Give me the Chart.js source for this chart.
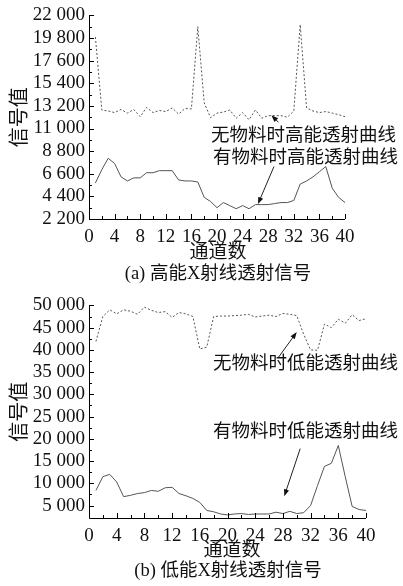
<!DOCTYPE html>
<html>
<head>
<meta charset="utf-8">
<script src="https://cdn.jsdelivr.net/npm/chart.js@4.4.1/dist/chart.umd.min.js"></script>
<style>
  body { margin: 0; background: #fff; width: 403px; height: 586px; position: relative; overflow: hidden; }
  canvas { position: absolute; left: 0; }
  .lbl { position: absolute; width: 240px; text-align: center; white-space: nowrap; line-height: 1;
         font-family: "Liberation Serif", "Noto Sans CJK SC", serif; color: #111; }
</style>
</head>
<body>
<canvas id="chartA" width="403" height="290" style="top:0"></canvas>
<canvas id="chartB" width="403" height="296" style="top:290px"></canvas>
<div class="lbl" style="left:98px;top:242px;font-size:19px">通道数</div>
<div class="lbl" style="left:98px;top:264px;font-size:18.5px">(a) 高能X射线透射信号</div>
<div class="lbl" style="left:112px;top:540px;font-size:19px">通道数</div>
<div class="lbl" style="left:108px;top:561px;font-size:18.5px">(b) 低能X射线透射信号</div>
<script>
// channel numbers (x)
var channels = [1, 2, 3, 4, 5, 6, 7, 8, 9, 10, 11, 12, 13, 14, 15, 16, 17, 18, 19, 20,
    21, 22, 23, 24, 25, 26, 27, 28, 29, 30, 31, 32, 33, 34, 35, 36, 37, 38, 39, 40];

// (a) high energy
var highEmpty = [19900, 12800, 12700, 12550, 12850, 12500, 12850, 12150, 13050, 12550,
    12750, 12650, 13000, 12400, 12950, 12900, 20900, 13500, 12050, 12500,
    12600, 12800, 12000, 12550, 11850, 12800, 12000, 12250, 12250, 12250,
    12100, 12700, 21100, 13000, 12700, 12550, 12650, 12500, 12350, 12150];
var highLoaded = [5700, 7000, 8100, 7600, 6300, 5900, 6200, 6200, 6700, 6700,
    6900, 6900, 6900, 6000, 5900, 5900, 5800, 4300, 3900, 3300,
    3800, 3500, 3200, 3500, 3200, 3600, 3600, 3600, 3700, 3800,
    3800, 4000, 5600, 5900, 6300, 6800, 7300, 5200, 4300, 3800];

// (b) low energy
var lowEmpty = [41900, 47500, 49000, 48100, 49000, 48700, 48000, 49600, 48900, 48400,
    48600, 47300, 48400, 48100, 47500, 40200, 40600, 47500, 47600, 47600,
    47700, 47800, 48000, 47400, 47600, 47800, 47500, 48200, 48000, 47700,
    43500, 40000, 39900, 45800, 45000, 46900, 46000, 47900, 46600, 47000];
var lowLoaded = [8400, 11500, 12000, 10300, 7000, 7300, 7700, 7900, 8400, 8200,
    9000, 9100, 7700, 7200, 6600, 5700, 3900, 3600, 3100, 2900,
    3100, 3200, 3000, 3100, 3100, 3100, 3500, 3200, 3700, 3200,
    3400, 5000, 9500, 13800, 14500, 18500, 11500, 4800, 4100, 3900];

// tick values
var xTicks = [0, 4, 8, 12, 16, 20, 24, 28, 32, 36, 40];
var yTicksA = [2200, 4400, 6600, 8800, 11000, 13200, 15400, 17600, 19800, 22000];
var yTicksB = [5000, 10000, 15000, 20000, 25000, 30000, 35000, 40000, 45000, 50000];

var curveNames = ['无物料时高能透射曲线', '有物料时高能透射曲线', '无物料时低能透射曲线', '有物料时低能透射曲线'];

function pts(vals) {
    return channels.map(function (c, i) { return { x: c, y: vals[i] }; });
}
function fmt(v) {
    return String(v).replace(/\B(?=(\d{3})+(?!\d))/g, ' ');
}
function mids(arr) {
    return arr.slice(1).map(function (v, i) { return (v + arr[i]) / 2; });
}

// draws axis lines, inner tick marks, notes and arrows
var notePlugin = {
    id: 'notes',
    afterDatasetsDraw: function (chart, args, opts) {
        var ctx = chart.ctx, xs = chart.scales.x, ys = chart.scales.y;
        var area = chart.chartArea;
        ctx.save();
        ctx.strokeStyle = '#000';
        ctx.lineWidth = 1;
        ctx.beginPath();
        var top = ys.getPixelForValue(ys.max);
        ctx.moveTo(area.left + 0.5, top);
        ctx.lineTo(area.left + 0.5, area.bottom + 0.5);
        ctx.lineTo(xs.getPixelForValue(xs.max), area.bottom + 0.5);
        opts.yMajor.forEach(function (v) {
            var p = Math.round(ys.getPixelForValue(v)) + 0.5;
            ctx.moveTo(area.left, p); ctx.lineTo(area.left + 5, p);
        });
        opts.yMinor.forEach(function (v) {
            var p = Math.round(ys.getPixelForValue(v)) + 0.5;
            ctx.moveTo(area.left, p); ctx.lineTo(area.left + 3, p);
        });
        xTicks.forEach(function (v) {
            var p = Math.round(xs.getPixelForValue(v)) + 0.5;
            ctx.moveTo(p, area.bottom); ctx.lineTo(p, area.bottom - 5);
        });
        mids(xTicks).forEach(function (v) {
            var p = Math.round(xs.getPixelForValue(v)) + 0.5;
            ctx.moveTo(p, area.bottom); ctx.lineTo(p, area.bottom - 3);
        });
        ctx.stroke();

        // arrows (ends in data units)
        ctx.fillStyle = '#111';
        ctx.strokeStyle = '#222';
        opts.arrows.forEach(function (a) {
            var x1 = xs.getPixelForValue(a.from[0]), y1 = ys.getPixelForValue(a.from[1]);
            var x2 = xs.getPixelForValue(a.to[0]), y2 = ys.getPixelForValue(a.to[1]);
            var ang = Math.atan2(y2 - y1, x2 - x1);
            ctx.beginPath();
            ctx.moveTo(x1, y1); ctx.lineTo(x2 - 5 * Math.cos(ang), y2 - 5 * Math.sin(ang));
            ctx.stroke();
            ctx.beginPath();
            ctx.moveTo(x2, y2);
            ctx.lineTo(x2 - 7 * Math.cos(ang) + 2.6 * Math.sin(ang), y2 - 7 * Math.sin(ang) - 2.6 * Math.cos(ang));
            ctx.lineTo(x2 - 7 * Math.cos(ang) - 2.6 * Math.sin(ang), y2 - 7 * Math.sin(ang) + 2.6 * Math.cos(ang));
            ctx.closePath();
            ctx.fill();
        });

        ctx.fillStyle = '#111';
        ctx.font = '18.5px "Noto Sans CJK SC"';
        ctx.textAlign = 'left';
        ctx.textBaseline = 'middle';
        opts.texts.forEach(function (t) {
            ctx.fillText(t.text, t.x, t.y);
        });
        ctx.restore();
    }
};

function makeChart(id, empty, loaded, yMin, yMax, yTicks, pad, xHeight, notes) {
    var ctx = document.getElementById(id).getContext('2d');
    return new Chart(ctx, {
        type: 'scatter',
        data: {
            datasets: [
                {
                    label: 'empty',
                    data: pts(empty),
                    showLine: true,
                    borderColor: '#555',
                    borderWidth: 1,
                    borderDash: [2, 2],
                    pointRadius: 0,
                    tension: 0
                },
                {
                    label: 'loaded',
                    data: pts(loaded),
                    showLine: true,
                    borderColor: '#555',
                    borderWidth: 1,
                    pointRadius: 0,
                    tension: 0
                }
            ]
        },
        options: {
            responsive: false,
            animation: false,
            events: [],
            layout: { padding: pad },
            scales: {
                x: {
                    type: 'linear',
                    min: 0,
                    max: 40,
                    grid: { display: false, drawTicks: false },
                    border: { display: false },
                    afterBuildTicks: function (s) { s.ticks = xTicks.map(function (v) { return { value: v }; }); },
                    afterFit: function (s) { s.height = xHeight; },
                    ticks: {
                        color: '#111',
                        padding: 7,
                        autoSkip: false,
                        maxRotation: 0,
                        font: { family: 'Liberation Serif', size: 19 }
                    }
                },
                y: {
                    min: yMin,
                    max: yMax,
                    grid: { display: false, drawTicks: false },
                    border: { display: false },
                    afterBuildTicks: function (s) { s.ticks = yTicks.map(function (v) { return { value: v }; }); },
                    afterFit: function (s) { s.width = 89; },
                    title: {
                        display: true,
                        text: '信号值',
                        color: '#111',
                        padding: { top: 6, bottom: 0 },
                        font: { family: 'Noto Sans CJK SC', size: 20 }
                    },
                    ticks: {
                        color: '#111',
                        padding: 4,
                        autoSkip: false,
                        font: { family: 'Liberation Serif', size: 19 },
                        callback: function (v) { return fmt(v); }
                    }
                }
            },
            plugins: {
                legend: { display: false },
                tooltip: { enabled: false },
                notes: notes
            }
        },
        plugins: [notePlugin]
    });
}

makeChart('chartA', highEmpty, highLoaded, 2200, 22000, yTicksA,
    { left: 0, top: 14, right: 58, bottom: 0 }, 71, {
        yMajor: yTicksA,
        yMinor: mids(yTicksA),
        texts: [
            { text: curveNames[0], x: 211, y: 134 },
            { text: curveNames[1], x: 213, y: 156 }
        ],
        arrows: [
            { from: [29.6, 11600], to: [28.5, 12300] },
            { from: [28.9, 7300], to: [26.4, 3650] }
        ]
    });

makeChart('chartB', lowEmpty, lowLoaded, 2200, 50000, yTicksB,
    { left: 0, top: 5, right: 37, bottom: 0 }, 68, {
        yMajor: yTicksB,
        yMinor: mids(yTicksB),
        texts: [
            { text: curveNames[2], x: 213, y: 72 },
            { text: curveNames[3], x: 213, y: 140 }
        ],
        arrows: [
            { from: [27.3, 38200], to: [30.0, 44000] },
            { from: [30.5, 17800], to: [28.2, 7100] }
        ]
    });
</script>
</body>
</html>
